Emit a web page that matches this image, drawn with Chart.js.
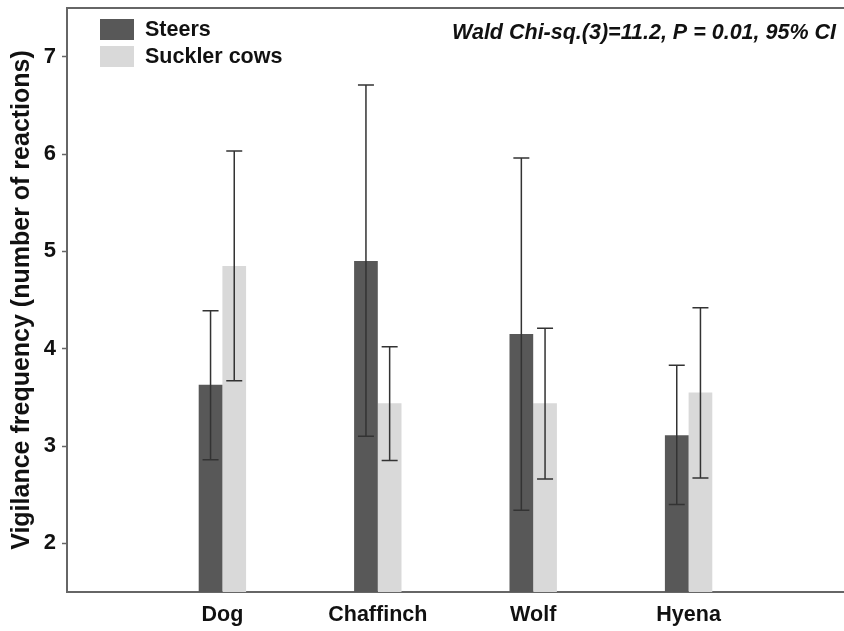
<!DOCTYPE html>
<html>
<head>
<meta charset="utf-8">
<script src="https://cdn.jsdelivr.net/npm/chart.js@4.4.1/dist/chart.umd.min.js"></script>
<style>
    body { margin: 0; overflow: hidden; background: #fff; }
    #wrap { width: 854px; height: 631px; }
</style>
</head>
<body>
<div id="wrap"><canvas id="vigilanceChart"></canvas></div>
<script>
// Data
const categories = ['Dog', 'Chaffinch', 'Wolf', 'Hyena'];
const steers = [3.63, 4.90, 4.15, 3.11];
const steersLow = [2.86, 3.10, 2.34, 2.40];
const steersHigh = [4.39, 6.71, 5.96, 3.83];
const suckler = [4.85, 3.44, 3.44, 3.55];
const sucklerLow = [3.67, 2.85, 2.66, 2.67];
const sucklerHigh = [6.03, 4.02, 4.21, 4.42];
const yTicks = [2, 3, 4, 5, 6, 7];
const statsText = 'Wald Chi-sq.(3)=11.2, P = 0.01, 95% CI';

// empty slots at both ends so the groups sit where they do in the figure
const labels = [''].concat(categories, ['']);
const pad = arr => [null].concat(arr, [null]);

const errorBars = {
    id: 'errorBars',
    afterDatasetsDraw(chart) {
        const ctx = chart.ctx;
        const y = chart.scales.y;
        chart.data.datasets.forEach((ds, i) => {
            const meta = chart.getDatasetMeta(i);
            meta.data.forEach((bar, j) => {
                if (ds.low[j] == null) return;
                const top = y.getPixelForValue(ds.high[j]);
                const bottom = y.getPixelForValue(ds.low[j]);
                ctx.save();
                ctx.strokeStyle = '#333333';
                ctx.lineWidth = 1.5;
                ctx.beginPath();
                ctx.moveTo(bar.x, top);
                ctx.lineTo(bar.x, bottom);
                ctx.moveTo(bar.x - 8, top);
                ctx.lineTo(bar.x + 8, top);
                ctx.moveTo(bar.x - 8, bottom);
                ctx.lineTo(bar.x + 8, bottom);
                ctx.stroke();
                ctx.restore();
            });
        });
    }
};

const decorations = {
    id: 'decorations',
    afterDraw(chart) {
        const ctx = chart.ctx;
        const area = chart.chartArea;
        ctx.save();
        // top frame line
        ctx.strokeStyle = '#666666';
        ctx.lineWidth = 2;
        ctx.beginPath();
        ctx.moveTo(area.left, area.top);
        ctx.lineTo(area.right, area.top);
        ctx.stroke();

        // legend
        ctx.font = 'bold 21.5px "Liberation Sans", Arial, sans-serif';
        ctx.textBaseline = 'middle';
        chart.data.datasets.forEach((ds, i) => {
            const boxY = 19 + i * 27;
            ctx.fillStyle = ds.backgroundColor;
            ctx.fillRect(100, boxY, 34, 21);
            ctx.fillStyle = '#111111';
            ctx.fillText(ds.label, 145, boxY + 11);
        });

        // statistics note
        ctx.font = 'italic bold 21.5px "Liberation Sans", Arial, sans-serif';
        ctx.textAlign = 'right';
        ctx.fillText(statsText, 836, 33);
        ctx.restore();
    }
};

new Chart(document.getElementById('vigilanceChart'), {
    type: 'bar',
    data: {
        labels: labels,
        datasets: [{
            label: 'Steers',
            data: pad(steers),
            low: pad(steersLow),
            high: pad(steersHigh),
            backgroundColor: '#585858'
        }, {
            label: 'Suckler cows',
            data: pad(suckler),
            low: pad(sucklerLow),
            high: pad(sucklerHigh),
            backgroundColor: '#d9d9d9'
        }]
    },
    options: {
        responsive: true,
        maintainAspectRatio: false,
        animation: false,
        layout: { padding: { top: 8, left: 0, right: 0, bottom: 0 } },
        plugins: {
            legend: { display: false },
            tooltip: { enabled: false }
        },
        datasets: {
            bar: { categoryPercentage: 0.305, barPercentage: 1.0 }
        },
        scales: {
            x: {
                offset: false,
                afterFit: scale => { scale.height = 39; },
                grid: { drawOnChartArea: false, drawTicks: false },
                border: { color: '#666666', width: 2 },
                ticks: {
                    color: '#111111',
                    padding: 10,
                    maxRotation: 0,
                    autoSkip: false,
                    font: { family: '"Liberation Sans", Arial', weight: 'bold', size: 21.5 }
                }
            },
            y: {
                min: 1.5,
                max: 7.5,
                afterFit: scale => {
                    scale.width = 67;
                    scale.paddingTop = 0;
                    scale.paddingBottom = 0;
                },
                afterBuildTicks: scale => { scale.ticks = yTicks.map(v => ({ value: v })); },
                grid: { drawOnChartArea: false, tickLength: 5, tickColor: '#666666', tickWidth: 1.5 },
                border: { color: '#666666', width: 2 },
                ticks: {
                    color: '#111111',
                    padding: 6,
                    font: { family: '"Liberation Sans", Arial', weight: 'bold', size: 22 }
                },
                title: {
                    display: true,
                    text: 'Vigilance frequency (number of reactions)',
                    color: '#111111',
                    padding: { top: 7, bottom: 0 },
                    font: { family: '"Liberation Sans", Arial', weight: 'bold', size: 25 }
                }
            }
        }
    },
    plugins: [errorBars, decorations]
});
</script>
</body>
</html>
